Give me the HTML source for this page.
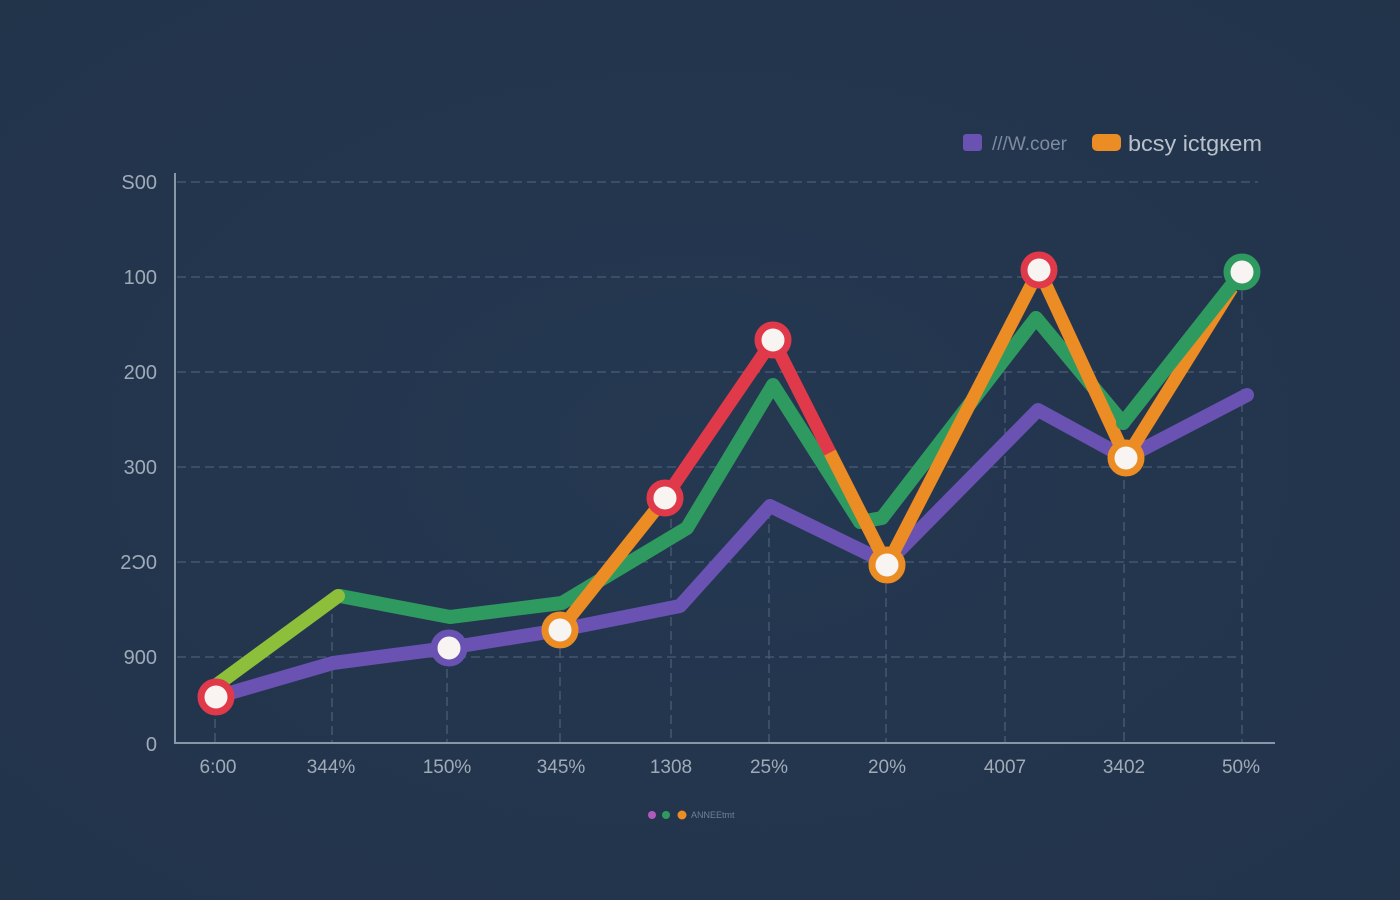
<!DOCTYPE html>
<html>
<head>
<meta charset="utf-8">
<style>
  html,body{margin:0;padding:0;background:#243650;}
  body{width:1400px;height:900px;overflow:hidden;}
  svg{display:block;}
  text{font-family:"Liberation Sans",sans-serif;}
</style>
</head>
<body>
<svg width="1400" height="900" viewBox="0 0 1400 900" xmlns="http://www.w3.org/2000/svg">
  <defs>
    <radialGradient id="bg" cx="50%" cy="50%" r="75%">
      <stop offset="0%" stop-color="#253851"/>
      <stop offset="100%" stop-color="#22334a"/>
    </radialGradient>
  </defs>
  <rect width="1400" height="900" fill="url(#bg)"/>

  <!-- horizontal grid -->
  <g stroke="#4b5d76" stroke-width="1.3" stroke-dasharray="9 5" fill="none">
    <line x1="177" y1="182" x2="1258" y2="182"/>
    <line x1="177" y1="277" x2="1242" y2="277"/>
    <line x1="177" y1="372" x2="1242" y2="372"/>
    <line x1="177" y1="467" x2="1242" y2="467"/>
    <line x1="177" y1="562" x2="1242" y2="562"/>
    <line x1="177" y1="657" x2="1242" y2="657"/>
  </g>
  <!-- vertical drop lines -->
  <g stroke="#4b5d76" stroke-width="1.3" stroke-dasharray="9 5" fill="none">
    <line x1="215" y1="705" x2="215" y2="743"/>
    <line x1="332" y1="600" x2="332" y2="743"/>
    <line x1="447" y1="655" x2="447" y2="743"/>
    <line x1="560" y1="635" x2="560" y2="743"/>
    <line x1="671" y1="505" x2="671" y2="743"/>
    <line x1="769" y1="510" x2="769" y2="743"/>
    <line x1="886" y1="570" x2="886" y2="743"/>
    <line x1="1005" y1="372" x2="1005" y2="743"/>
    <line x1="1124" y1="466" x2="1124" y2="743"/>
    <line x1="1242" y1="277" x2="1242" y2="743"/>
  </g>

  <!-- axes -->
  <line x1="175" y1="173" x2="175" y2="744" stroke="#8796a8" stroke-width="2"/>
  <line x1="174" y1="743" x2="1275" y2="743" stroke="#8796a8" stroke-width="2"/>

  <!-- y labels -->
  <g fill="#a0abb8" font-size="20" text-anchor="end">
    <text x="157" y="189">S00</text>
    <text x="157" y="284">100</text>
    <text x="157" y="379">200</text>
    <text x="157" y="474">300</text>
    <text x="157" y="569">2Ͻ0</text>
    <text x="157" y="664">900</text>
    <text x="157" y="751">0</text>
  </g>
  <!-- x labels -->
  <g fill="#a0abb8" font-size="19" text-anchor="middle">
    <text x="218" y="773">6:00</text>
    <text x="331" y="773">344%</text>
    <text x="447" y="773">150%</text>
    <text x="561" y="773">345%</text>
    <text x="671" y="773">1308</text>
    <text x="769" y="773">25%</text>
    <text x="887" y="773">20%</text>
    <text x="1005" y="773">4007</text>
    <text x="1124" y="773">3402</text>
    <text x="1241" y="773">50%</text>
  </g>

  <!-- purple series -->
  <polyline fill="none" stroke="#6a52b3" stroke-width="14" stroke-linejoin="round" stroke-linecap="round"
    points="216,697 333,663 448,648 560,630 680,606 770,506 887,563 1038,410 1126,458 1247,395"/>

  <!-- green series -->
  <polyline fill="none" stroke="#2f9a5f" stroke-width="14" stroke-linejoin="round" stroke-linecap="round"
    points="340,596 450,617 562,603 687,528 773,385 860,522 882,518 1036,318 1123,423"/>
  <line x1="218" y1="684" x2="338" y2="596" stroke="#8dbf3b" stroke-width="14" stroke-linecap="round"/>

  <!-- orange / red series -->
  <polyline fill="none" stroke="#ec8c24" stroke-width="13" stroke-linejoin="round" stroke-linecap="round"
    points="560,630 665,498"/>
  <polyline fill="none" stroke="#e03a4a" stroke-width="13" stroke-linejoin="round" stroke-linecap="butt"
    points="665,498 773,340 830,452.5"/>
  <polyline fill="none" stroke="#ec8c24" stroke-width="13" stroke-linejoin="round" stroke-linecap="butt"
    points="830,452.5 887,565 1039,270 1126,458 1232,288"/>

  <!-- green last segment on top -->
  <polyline fill="none" stroke="#2f9a5f" stroke-width="14" stroke-linejoin="round" stroke-linecap="round"
    points="1123,423 1242,272"/>

  <!-- markers -->
  <g stroke-width="7" fill="#f7f4f2">
    <circle cx="216" cy="697" r="15" stroke="#e03a4a"/>
    <circle cx="449" cy="648" r="15" stroke="#6a52b3"/>
    <circle cx="560" cy="630" r="15" stroke="#ec8c24"/>
    <circle cx="665" cy="498" r="15" stroke="#e03a4a"/>
    <circle cx="773" cy="340" r="15" stroke="#e03a4a"/>
    <circle cx="887" cy="565" r="15" stroke="#ec8c24"/>
    <circle cx="1039" cy="270" r="15" stroke="#e03a4a"/>
    <circle cx="1126" cy="458" r="15" stroke="#ec8c24"/>
    <circle cx="1242" cy="272" r="15" stroke="#2f9a5f"/>
  </g>

  <!-- top legend -->
  <rect x="963" y="134" width="19" height="17" rx="3" fill="#6a52b3"/>
  <text x="992" y="150" font-size="19" fill="#7e8ba0">///W.coer</text>
  <rect x="1092" y="134" width="29" height="17" rx="5" fill="#ec8c24"/>
  <text x="1128" y="151" font-size="22" fill="#b9c2cc" textLength="134" lengthAdjust="spacingAndGlyphs">bcsy ictgкem</text>

  <!-- bottom mini legend -->
  <circle cx="652" cy="815" r="4" fill="#b05ac0"/>
  <circle cx="666" cy="815" r="4" fill="#2f9a5f"/>
  <circle cx="682" cy="815" r="4.5" fill="#ec8c24"/>
  <text x="691" y="818" font-size="9" fill="#6f7f96">ANNEEtmt</text>
</svg>
</body>
</html>
